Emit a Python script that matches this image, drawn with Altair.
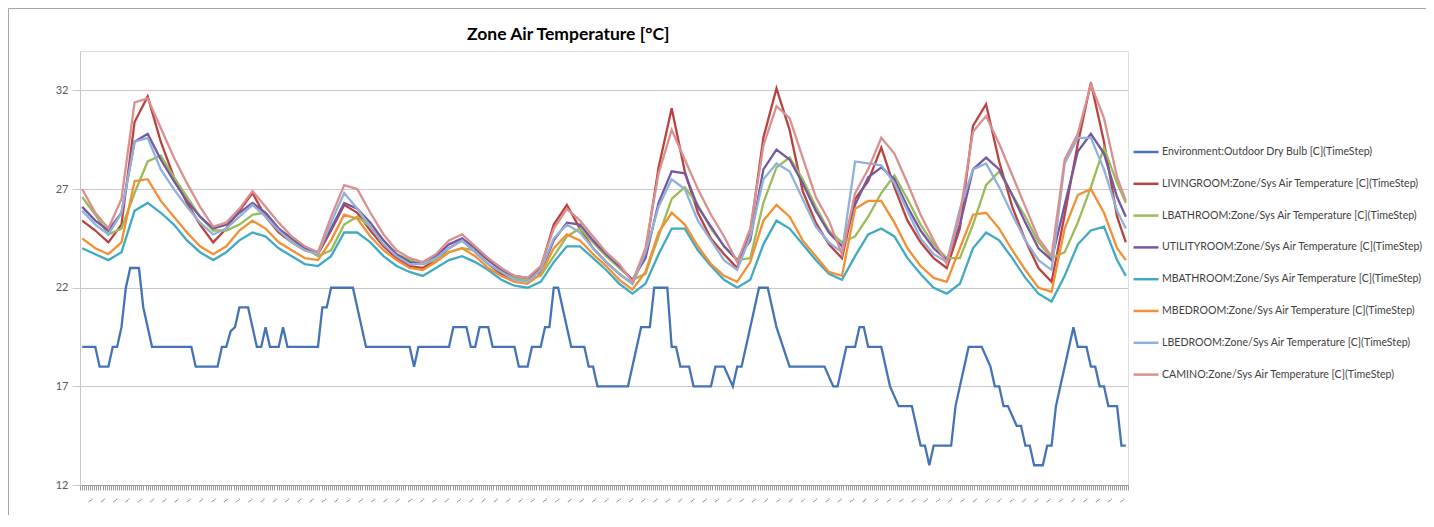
import altair as alt
import pandas as pd

# ---------------- data ----------------
SERIES = [
    "Environment:Outdoor Dry Bulb [C](TimeStep)",
    "LIVINGROOM:Zone/Sys Air Temperature [C](TimeStep)",
    "LBATHROOM:Zone/Sys Air Temperature [C](TimeStep)",
    "UTILITYROOM:Zone/Sys Air Temperature [C](TimeStep)",
    "MBATHROOM:Zone/Sys Air Temperature [C](TimeStep)",
    "MBEDROOM:Zone/Sys Air Temperature [C](TimeStep)",
    "LBEDROOM:Zone/Sys Air Temperature [C](TimeStep)",
    "CAMINO:Zone/Sys Air Temperature [C](TimeStep)",
]
COLORS = ["#4573B7", "#BA4340", "#9BBB59", "#7458A0", "#40AAC4", "#F39035", "#8FB1DA", "#DA908F"]
TITLE = "Zone Air Temperature [°C]"

# outdoor dry bulb: hour index -> temperature (break points of the stepped line)
OUT_H = [0, 3, 4, 6, 7, 8, 9, 10, 11, 13, 14, 16, 25, 26, 31, 32, 33, 34, 35, 36,
         38, 40, 41, 42, 43, 45, 46, 47, 54, 55, 56, 57, 62, 63, 65, 75, 76, 77, 84, 85,
         88, 89, 90, 91, 93, 94, 99, 100, 102, 103, 105, 106, 107, 108, 109, 110, 111, 112, 115, 116,
         117, 118, 125, 128, 130, 131, 134, 135, 136, 137, 139, 140, 144, 145, 147, 149, 150, 151, 153, 155,
         157, 159, 162, 170, 172, 173, 175, 177, 178, 179, 180, 183, 184, 185, 187, 190, 191, 192, 193, 194,
         195, 199, 200, 201, 202, 203, 206, 208, 209, 210, 211, 212, 214, 215, 216, 217, 218, 220, 221, 222,
         223, 224, 225, 226, 227, 228, 230, 231, 232, 233, 234, 235, 237, 238, 239]
OUT_T = [19, 19, 18, 18, 19, 19, 20, 22, 23, 23, 21, 19, 19, 18, 18, 19, 19, 19.8, 20, 21,
         21, 19, 19, 20, 19, 19, 20, 19, 19, 21, 21, 22, 22, 21, 19, 19, 18, 19, 19, 20,
         20, 19, 19, 20, 20, 19, 19, 18, 18, 19, 19, 20, 20, 22, 22, 21, 20, 19, 19, 18,
         18, 17, 17, 20, 20, 22, 22, 19, 19, 18, 18, 17, 17, 18, 18, 17, 18, 18, 20, 22,
         22, 20, 18, 18, 17, 17, 19, 19, 20, 20, 19, 19, 18, 17, 16, 16, 15, 14, 14, 13,
         14, 14, 16, 17, 18, 19, 19, 18, 17, 17, 16, 16, 15, 15, 14, 14, 13, 13, 14, 14,
         16, 17, 18, 19, 20, 19, 19, 18, 18, 17, 17, 16, 16, 14, 14]

# zone temperatures, read every 3 hours (last at hour 239)
ZONE_H = list(range(0, 240, 3)) + [239]
LIVINGROOM = [25.4, 24.9, 24.3, 25.2, 30.4, 31.7, 29.4, 27.6, 26.3, 25.2,
              24.3, 25.0, 25.9, 26.8, 25.6, 24.8, 24.3, 23.9, 23.7, 24.9,
              26.2, 25.8, 24.9, 24.1, 23.5, 23.1, 23.0, 23.4, 24.0, 24.4,
              23.8, 23.2, 22.7, 22.4, 22.4, 23.0, 25.2, 26.2, 25.0, 24.0,
              23.3, 22.7, 22.2, 23.8, 28.1, 31.1, 27.9, 25.8, 24.5, 23.7,
              23.0, 24.8, 29.6, 32.1, 30.0, 26.9, 25.3, 24.2, 23.5, 26.5,
              27.4, 29.1, 27.1, 25.4, 24.3, 23.5, 23.0, 25.0, 30.2, 31.3,
              28.4, 26.1, 24.4, 23.0, 22.3, 25.7, 29.3, 32.4, 29.4, 25.6,
              24.3]
LBATHROOM = [26.6, 25.7, 24.7, 25.0, 26.8, 28.4, 28.7, 27.6, 26.6, 25.6,
             24.9, 24.9, 25.2, 25.7, 25.8, 25.0, 24.4, 24.0, 23.6, 23.9,
             25.2, 25.6, 25.1, 24.4, 23.7, 23.4, 23.2, 23.4, 23.8, 24.0,
             23.9, 23.4, 22.9, 22.5, 22.4, 22.6, 23.6, 24.6, 25.0, 24.3,
             23.6, 23.0, 22.4, 22.7, 24.6, 26.5, 27.1, 26.2, 25.0, 24.1,
             23.4, 23.5, 26.3, 28.1, 28.6, 27.5, 26.1, 24.9, 24.3, 24.6,
             25.6, 26.8, 27.7, 26.5, 25.2, 24.2, 23.5, 23.5, 25.2, 27.2,
             27.9, 26.7, 25.6, 24.3, 23.5, 23.8, 25.3, 27.1, 29.1, 27.3,
             26.3]
UTILITYROOM = [26.1, 25.4, 24.9, 25.8, 29.4, 29.8, 28.5, 27.4, 26.4, 25.6,
               25.0, 25.2, 25.8, 26.3, 25.8, 25.0, 24.5, 24.0, 23.8, 25.0,
               26.3, 26.0, 25.3, 24.4, 23.7, 23.3, 23.2, 23.6, 24.2, 24.5,
               24.0, 23.4, 22.9, 22.6, 22.5, 22.8, 24.4, 25.3, 25.2, 24.4,
               23.7, 23.1, 22.4, 23.5, 26.3, 27.9, 27.8, 26.1, 25.1, 24.1,
               23.4, 24.4, 28.0, 29.0, 28.5, 27.3, 25.9, 24.8, 24.1, 26.2,
               27.6, 28.1, 27.5, 26.1, 24.9, 24.0, 23.4, 25.2, 28.0, 28.6,
               28.0, 26.7, 25.3, 24.0, 23.4, 26.2, 28.9, 29.8, 28.8, 26.6,
               25.6]
MBATHROOM = [24.0, 23.7, 23.4, 23.8, 25.9, 26.3, 25.8, 25.2, 24.4, 23.8,
             23.4, 23.8, 24.4, 24.8, 24.6, 24.0, 23.6, 23.2, 23.1, 23.6,
             24.8, 24.8, 24.3, 23.6, 23.1, 22.8, 22.6, 23.0, 23.4, 23.6,
             23.3, 22.9, 22.4, 22.1, 22.0, 22.3, 23.3, 24.1, 24.1, 23.5,
             22.9, 22.2, 21.7, 22.2, 23.7, 25.0, 25.0, 23.9, 23.1, 22.4,
             22.0, 22.4, 24.2, 25.4, 25.0, 24.2, 23.4, 22.7, 22.4, 23.6,
             24.7, 25.0, 24.6, 23.5, 22.7, 22.0, 21.7, 22.2, 24.0, 24.8,
             24.4, 23.5, 22.5, 21.7, 21.3, 22.6, 24.2, 24.9, 25.1, 23.4,
             22.6]
MBEDROOM = [24.5, 24.0, 23.7, 24.3, 27.4, 27.5, 26.4, 25.6, 24.8, 24.1,
            23.7, 24.1, 24.9, 25.4, 25.0, 24.3, 23.9, 23.5, 23.4, 24.4,
            25.7, 25.5, 24.6, 23.9, 23.4, 23.0, 22.9, 23.3, 23.8, 24.0,
            23.6, 23.0, 22.6, 22.3, 22.2, 22.7, 24.0, 24.7, 24.4, 23.7,
            23.1, 22.4, 21.9, 22.8, 24.8, 25.8, 25.2, 24.1, 23.2, 22.6,
            22.3, 23.3, 25.4, 26.2, 25.6, 24.4, 23.6, 22.8, 22.6, 26.0,
            26.4, 26.4, 25.3, 24.0, 23.1, 22.5, 22.3, 24.0, 25.7, 25.8,
            25.0, 23.9, 22.9, 22.0, 21.8, 25.0, 26.7, 27.0, 25.8, 24.0,
            23.4]
LBEDROOM = [25.9, 25.2, 24.7, 25.8, 29.4, 29.6, 28.0, 27.0, 26.1, 25.3,
            24.7, 25.0, 25.6, 26.2, 25.6, 24.9, 24.3, 23.9, 23.7, 25.3,
            26.8, 26.0, 25.1, 24.2, 23.6, 23.2, 23.2, 23.5, 24.0, 24.4,
            23.8, 23.2, 22.8, 22.4, 22.3, 22.9, 24.5, 25.2, 24.8, 24.0,
            23.3, 22.7, 22.2, 23.8, 26.1, 27.5, 27.0, 25.4, 24.4, 23.4,
            22.9, 24.6, 27.5, 28.3, 27.9, 26.5, 25.1, 24.3, 23.8, 28.4,
            28.3, 28.2, 27.3, 25.9, 24.5, 23.7, 23.3, 26.0, 28.0, 28.3,
            27.1, 25.7, 24.4, 23.4, 22.9, 28.3, 29.6, 29.6, 28.0, 25.9,
            25.0]
CAMINO = [27.0, 25.8, 25.0, 26.5, 31.4, 31.6, 30.1, 28.6, 27.3, 26.1,
          25.1, 25.3, 26.0, 26.9, 26.1, 25.3, 24.6, 24.1, 23.8, 25.6,
          27.2, 27.0, 25.8, 24.7, 23.9, 23.5, 23.3, 23.7, 24.4, 24.7,
          24.1, 23.5, 23.0, 22.6, 22.5, 23.1, 25.0, 26.0, 25.4, 24.6,
          23.8, 23.2, 22.3, 24.0, 27.8, 30.0, 28.5, 27.0, 25.7, 24.6,
          23.3, 25.0, 29.2, 31.2, 30.6, 28.6, 26.6, 25.4, 23.7, 26.8,
          28.0, 29.6, 28.8, 27.3, 25.7, 24.4, 23.2, 25.7, 29.9, 30.7,
          29.3, 27.7, 26.1, 24.5, 23.6, 28.5, 29.8, 32.3, 30.6, 27.6,
          26.4]

Y_TICKS = [12, 17, 22, 27, 32]
X_LABEL = "..."

# ---------------- table ----------------
assert len(OUT_H) == len(OUT_T)
rows = [{"hour": h, "temp": t, "series": SERIES[0], "ord": 0} for h, t in zip(OUT_H, OUT_T)]
zones = [LIVINGROOM, LBATHROOM, UTILITYROOM, MBATHROOM, MBEDROOM, LBEDROOM, CAMINO]
for i, vals in enumerate(zones, start=1):
    assert len(vals) == len(ZONE_H), (i, len(vals))
    rows += [{"hour": h, "temp": t, "series": SERIES[i], "ord": i} for h, t in zip(ZONE_H, vals)]
df = pd.DataFrame(rows)

# ---------------- layout ----------------
W, H = 1048, 434
PAD = {"left": 72, "top": 43, "right": 298, "bottom": 30}
NT = 512
x_ticks = [-0.5 + i * 240 / NT for i in range(NT + 1)]
FONT = "Lato"

x_axis = alt.Axis(
    values=x_ticks, title=None, grid=False,
    labelExpr=f"(round((datum.value + 0.5) * {NT} / 240) % 6 == 4) ? '{X_LABEL}' : ''",
    labelAngle=-45, labelFontSize=8, labelColor="#404040", labelFont=FONT,
    labelOverlap=False, labelFlush=False, labelBound=False, labelPadding=4,
    tickSize=5, tickColor="#9a9a9a", tickWidth=1, domainColor="#9a9a9a", domainWidth=1,
)
y_axis = alt.Axis(
    values=Y_TICKS, title=None, grid=True, gridColor="#C8C8C8", gridWidth=1,
    labelFontSize=11, labelColor="#595959", labelFont=FONT, labelPadding=4,
    tickSize=8, tickColor="#C8C8C8", domainColor="#C8C8C8", domainWidth=1,
)

lines = alt.Chart(df).mark_line(strokeWidth=2.3).encode(
    x=alt.X("hour:Q", scale=alt.Scale(domain=[-0.5, 239.5], nice=False, zero=False), axis=x_axis),
    y=alt.Y("temp:Q", scale=alt.Scale(domain=[12, 34], nice=False, zero=False), axis=y_axis),
    color=alt.Color(
        "series:N",
        scale=alt.Scale(domain=SERIES, range=COLORS),
        sort=SERIES,
        legend=alt.Legend(
            orient="none", legendX=1052, legendY=87, title=None,
            symbolType="stroke", symbolSize=625, symbolStrokeWidth=2.5,
            labelFont=FONT, labelFontSize=10.6, labelColor="#404040", labelLimit=400,
            labelOffset=2, rowPadding=11.8, padding=0,
        ),
    ),
    order=alt.Order("ord:Q"),
)

frame_df = pd.DataFrame({"k": [0]})
border_left = alt.Chart(frame_df).mark_rule(color="#A6A6A6", strokeWidth=1).encode(
    x=alt.value(-71.5), y=alt.value(-42.5), y2=alt.value(H + 40)
)
border_top = alt.Chart(frame_df).mark_rule(color="#A6A6A6", strokeWidth=1).encode(
    x=alt.value(-71.5), x2=alt.value(W + 298), y=alt.value(-42.5)
)
title_text = alt.Chart(frame_df).mark_text(
    font=FONT, fontSize=17.5, fontWeight="bold", color="#000000", align="left", baseline="middle"
).encode(x=alt.value(387), y=alt.value(-16), text=alt.value(TITLE))

chart = alt.layer(border_left, border_top, title_text, lines).properties(
    width=W, height=H, padding=PAD,
    autosize=alt.AutoSizeParams(type="none"),
).configure_view(stroke=None).configure(background="white")

chart.save("out.html", embed_options={"renderer": "svg", "actions": False})
